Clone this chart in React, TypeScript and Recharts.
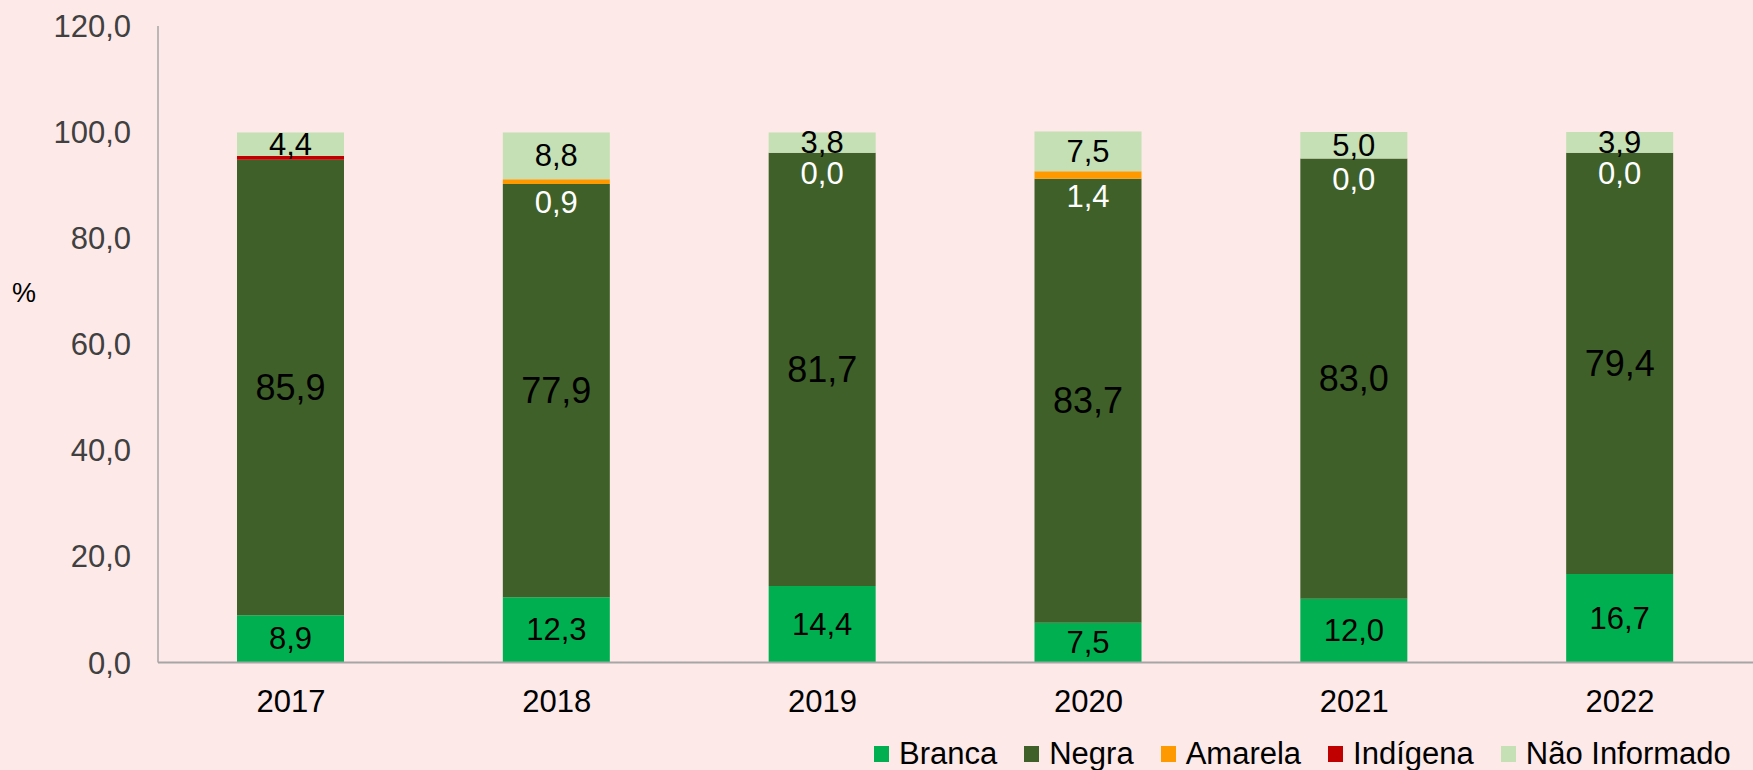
import { Bar, BarChart, LabelList, Label, XAxis, YAxis } from "recharts"

const FONT = "'Liberation Sans', Arial, sans-serif"

const years = ["2017", "2018", "2019", "2020", "2021", "2022"]
const branca = [8.9, 12.3, 14.4, 7.5, 12.0, 16.7]
const negra = [85.9, 77.9, 81.7, 83.7, 83.0, 79.4]
const amarela = [null, 0.9, 0.0, 1.4, 0.0, 0.0]
const indigena = [0.7, 0, 0, 0, 0, 0]
const naoInformado = [4.4, 8.8, 3.8, 7.5, 5.0, 3.9]
const yTicks = [0, 20, 40, 60, 80, 100, 120]

const legendItems = [
    { name: "Branca", color: "#00B050" },
    { name: "Negra", color: "#3F6129" },
    { name: "Amarela", color: "#FF9900" },
    { name: "Indígena", color: "#C00000" },
    { name: "Não Informado", color: "#C5E0B4" },
]

const data = years.map((year, i) => ({
    year,
    branca: branca[i],
    negra: negra[i],
    amarela: amarela[i],
    indigena: indigena[i],
    naoInformado: naoInformado[i],
}))

const fmt = (v: number) => v.toFixed(1).replace(".", ",")

function makeLabel(fontSize: number, fill: string) {
    return (props: any) => {
        const { x, y, width, height, value } = props
        if (value === null || value === undefined) return null
        return (
            <text
                x={x + width / 2}
                y={y + height / 2}
                textAnchor="middle"
                dominantBaseline="central"
                fontSize={fontSize}
                fill={fill}
                fontFamily={FONT}
            >
                {fmt(value)}
            </text>
        )
    }
}

// amarela is often 0 (no rect drawn), so its label hangs off the top segment,
// using that segment's own px-per-unit to find where the amarela slice sits
const amarelaLabel = (props: any) => {
    const { x, y, width, height, index } = props
    const a = amarela[index]
    if (a === null || a === undefined) return null
    const pxPerUnit = height / naoInformado[index]
    const centre = y + height + (indigena[index] + a / 2) * pxPerUnit
    return (
        <text
            x={x + width / 2}
            y={centre + 21}
            textAnchor="middle"
            dominantBaseline="central"
            fontSize={31}
            fill="#FFFFFF"
            fontFamily={FONT}
        >
            {fmt(a)}
        </text>
    )
}

export default function App() {
    return (
        <div style={{ position: "absolute", left: 0, top: 0, width: 1753, height: 770, background: "#FDE9E7", fontFamily: FONT }}>
            <BarChart width={1753} height={770} data={data} margin={{ top: 26, right: 0, bottom: 47.5, left: 0 }}>
                <XAxis
                    dataKey="year"
                    height={60}
                    tickLine={false}
                    tickSize={0}
                    tickMargin={27}
                    axisLine={{ stroke: "#A6A6A6", strokeWidth: 2 }}
                    tick={{ fill: "#000000", fontSize: 31, fontFamily: FONT }}
                />
                <YAxis
                    domain={[0, 120]}
                    ticks={yTicks}
                    interval={0}
                    width={158}
                    tickFormatter={fmt}
                    tickLine={false}
                    tickSize={0}
                    tickMargin={27}
                    axisLine={{ stroke: "#A6A6A6", strokeWidth: 1.5 }}
                    tick={{ fill: "#404040", fontSize: 31, fontFamily: FONT }}
                >
                    <Label
                        content={() => (
                            <text x={12} y={293} dominantBaseline="central" fontSize={27} fill="#000000" fontFamily={FONT}>
                                %
                            </text>
                        )}
                    />
                </YAxis>
                <Bar dataKey="branca" stackId="a" fill="#00B050" barSize={107} isAnimationActive={false}>
                    <LabelList dataKey="branca" content={makeLabel(31, "#000000")} />
                </Bar>
                <Bar dataKey="negra" stackId="a" fill="#3F6129" barSize={107} isAnimationActive={false}>
                    <LabelList dataKey="negra" content={makeLabel(36, "#000000")} />
                </Bar>
                <Bar dataKey="amarela" stackId="a" fill="#FF9900" barSize={107} isAnimationActive={false} />
                <Bar dataKey="indigena" stackId="a" fill="#C00000" barSize={107} isAnimationActive={false} />
                <Bar dataKey="naoInformado" stackId="a" fill="#C5E0B4" barSize={107} isAnimationActive={false}>
                    <LabelList dataKey="naoInformado" content={makeLabel(31, "#000000")} />
                    <LabelList dataKey="amarela" content={amarelaLabel} />
                </Bar>
            </BarChart>
            <div style={{ position: "absolute", left: 874, top: 736, display: "flex", alignItems: "center", lineHeight: "36px", fontSize: 31, color: "#000", whiteSpace: "nowrap" }}>
                {legendItems.map((item) => (
                    <div key={item.name} style={{ display: "flex", alignItems: "center", marginRight: 27 }}>
                        <span style={{ display: "inline-block", width: 15, height: 16, background: item.color, marginRight: 10 }} />
                        <span>{item.name}</span>
                    </div>
                ))}
            </div>
        </div>
    )
}
